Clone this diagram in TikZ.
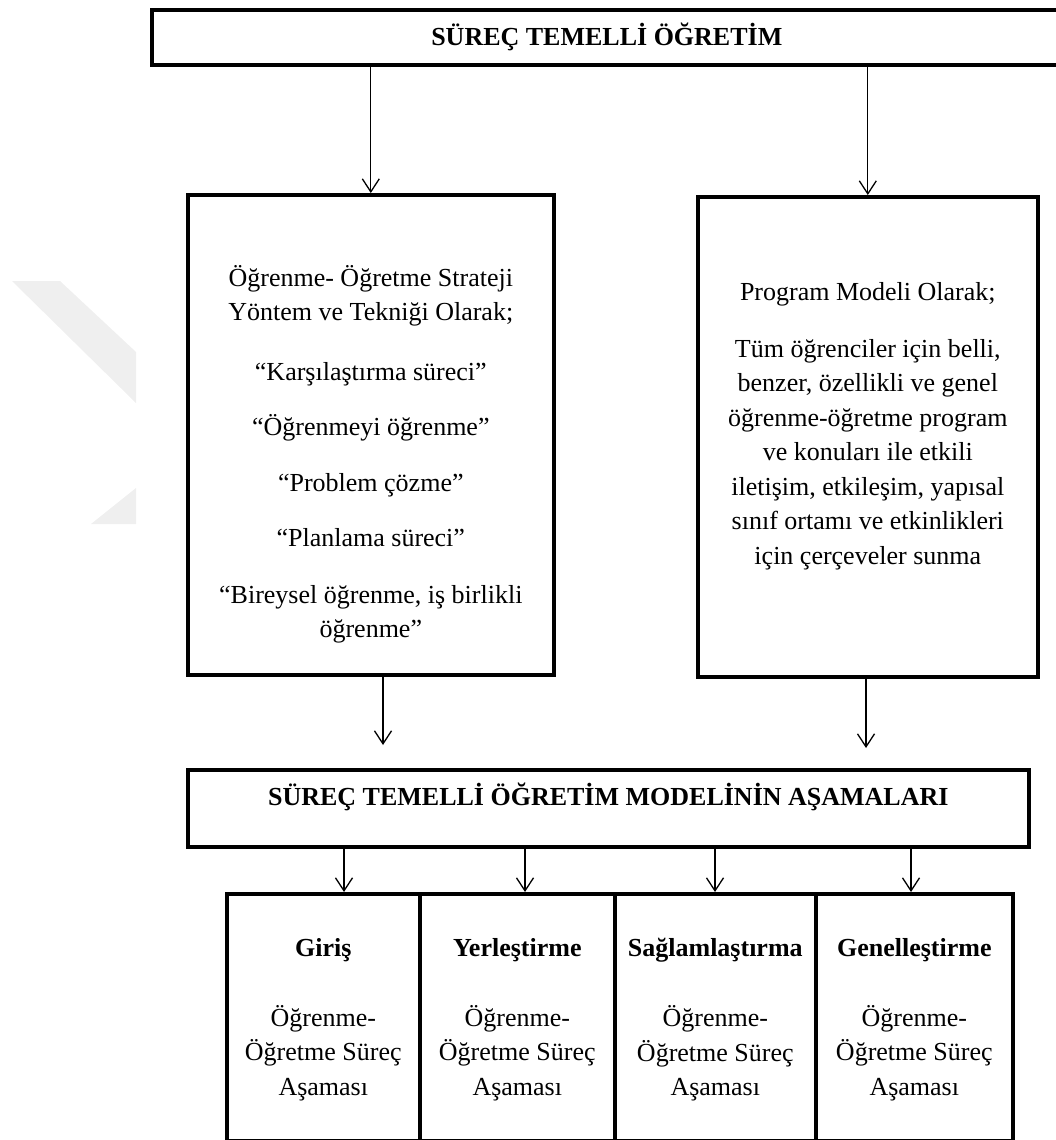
\documentclass[tikz,border=0pt]{standalone}
\usepackage{fontspec}
\setmainfont{Liberation Serif}
\usetikzlibrary{arrows.meta}
\definecolor{wmgray}{RGB}{239,239,239}

\begin{document}
\begin{tikzpicture}[x=1pt,y=-1pt,
    box/.style={draw,line width=3.6pt,inner sep=0pt,anchor=north west},
    txt/.style={align=center,inner sep=0pt,font=\fontsize{26}{34.5}\selectfont},
    head/.style={align=center,font=\fontsize{26}{34.5}\selectfont\bfseries},
    arr/.style={-{Straight Barb[length=13pt,width=17pt,line width=1.3pt]},line width=1.3pt}]
    \useasboundingbox (0,0) rectangle (1056,1140);
    % watermark
    \fill[wmgray] (12,281) -- (60,281) -- (136,352) -- (136,403) -- cycle;
    \fill[wmgray] (136,488) -- (136,524) -- (91,524) -- cycle;
    % boxes
    \node[box,head,minimum width=910pt,minimum height=55pt] (top) at (150,8) {SÜREÇ TEMELLİ ÖĞRETİM};
    \node[box,minimum width=366pt,minimum height=480pt] (lbox) at (186,193) {};
    \node[box,minimum width=340pt,minimum height=480pt] (rbox) at (696,195) {};
    \node[box,head,minimum width=841pt,minimum height=77pt,text height=23pt,text depth=29pt] (mid) at (186,768) {SÜREÇ TEMELLİ ÖĞRETİM MODELİNİN AŞAMALARI};
    \node[box,minimum width=193pt,minimum height=247pt] (b1) at (225,892) {};
    \node[box,minimum width=195pt,minimum height=247pt] (b2) at (418,892) {};
    \node[box,minimum width=201pt,minimum height=247pt] (b3) at (613,892) {};
    \node[box,minimum width=197pt,minimum height=247pt] (b4) at (814,892) {};
    % texts
    \node[txt,anchor=north] (ltxt) at ([yshift=-72pt]lbox.north) {Öğrenme- Öğretme Strateji\\
        Yöntem ve Tekniği Olarak;\\[25pt]
        “Karşılaştırma süreci”\\[21pt]
        “Öğrenmeyi öğrenme”\\[21pt]
        “Problem çözme”\\[21pt]
        “Planlama süreci”\\[22pt]
        “Bireysel öğrenme, iş birlikli\\
        öğrenme”};
    \node[txt,anchor=north] (rtxt) at ([yshift=-87pt]rbox.north) {Program Modeli Olarak;\\[22.5pt]
        Tüm öğrenciler için belli,\\
        benzer, özellikli ve genel\\
        öğrenme-öğretme program\\
        ve konuları ile etkili\\
        iletişim, etkileşim, yapısal\\
        sınıf ortamı ve etkinlikleri\\
        için çerçeveler sunma};
    \foreach \b/\t in {b1/Giriş,b2/Yerleştirme,b3/Sağlamlaştırma,b4/Genelleştirme}
        \node[txt,anchor=north] (\b txt) at ([yshift=-46pt]\b.north) {\textbf{\t}\\[35.5pt]
            Öğrenme-\\Öğretme Süreç\\Aşaması};
    % arrows
    \coordinate (lend) at (383,745);
    \coordinate (rend) at (866,748);
    \draw[arr] (top.south -| lbox.north) -- (lbox.north);
    \draw[arr] (top.south -| rbox.north) -- (rbox.north);
    \draw[arr] (lbox.south -| lend) -- (lend);
    \draw[arr] (rbox.south -| rend) -- (rend);
    \foreach \x/\b in {344/b1,525/b2,715/b3,911/b4} {
        \coordinate (s\b) at (\x,0);
        \draw[arr] (mid.south -| s\b) -- (\b.north -| s\b);
    }
\end{tikzpicture}
\end{document}
